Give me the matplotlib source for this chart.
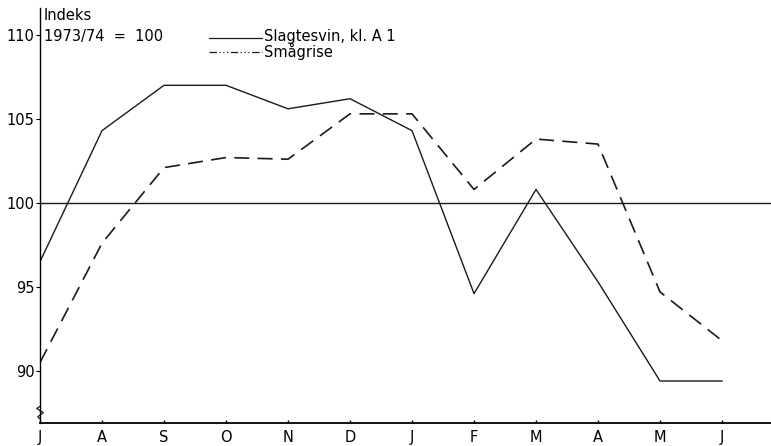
import matplotlib
matplotlib.use('Agg')
import matplotlib.pyplot as plt
import numpy as np

plt.rcParams['font.family'] = ['DejaVu Sans']

# Data (index 1973/74 = 100)
months = ['J', 'A', 'S', 'O', 'N', 'D', 'J', 'F', 'M', 'A', 'M', 'J']
slagtesvin = [96.5, 104.3, 107.0, 107.0, 105.6, 106.2, 104.3, 94.6, 100.8, 95.3, 89.4, 89.4]
smaagrise = [90.5, 97.6, 102.1, 102.7, 102.6, 105.3, 105.3, 100.8, 103.8, 103.5, 94.7, 91.8]
yticks = [90, 95, 100, 105, 110]

fig = plt.figure(figsize=(7.71, 4.46), dpi=100)
ax = fig.add_axes([40 / 771, 23 / 446, 731 / 771, 415 / 446])

x = np.arange(len(months))
ax.plot(x, slagtesvin, color='#1a1a1a', linewidth=1.0)
ax.plot(x, smaagrise, color='#1a1a1a', linewidth=1.2, dashes=(9, 5))
ax.axhline(100, color='#1a1a1a', linewidth=1.0)

ax.set_xlim(0, 11.79)
ax.set_ylim(86.9, 111.6)

for s in ['top', 'right']:
    ax.spines[s].set_visible(False)
ax.spines['left'].set_linewidth(1.0)
ax.spines['bottom'].set_linewidth(1.3)

ax.set_yticks(yticks)
ax.set_yticklabels([str(t) for t in yticks], fontsize=10.5)
ax.tick_params(axis='y', direction='out', length=3, width=0.8, pad=1)
ax.set_xticks(x)
ax.set_xticklabels(months, fontsize=10.5)
ax.tick_params(axis='x', direction='in', length=2, width=1.0, pad=5)

# axis break marker near the bottom of the y axis
bx = [0, -0.0045, 0.0045, -0.003, 0]
by = [0.04, 0.035, 0.025, 0.015, 0.01]
ax.plot(bx, by, transform=ax.transAxes, color='white', linewidth=3, clip_on=False)
ax.plot(bx, by, transform=ax.transAxes, color='#1a1a1a', linewidth=0.9, clip_on=False)

# titles and hand-drawn legend
fig.text(44 / 771, 1 - 15 / 446, 'Indeks', fontsize=10.5, va='center')
fig.text(44 / 771, 1 - 36 / 446, '1973/74  =  100', fontsize=10.5, va='center')
fig.lines.append(plt.Line2D([209 / 771, 262 / 771], [1 - 38 / 446, 1 - 38 / 446],
                            transform=fig.transFigure, color='#1a1a1a', linewidth=0.9))
fig.lines.append(plt.Line2D([209 / 771, 262 / 771], [1 - 52 / 446, 1 - 52 / 446],
                            transform=fig.transFigure, color='#1a1a1a', linewidth=0.9,
                            dashes=(6, 2, 1, 2, 1, 2, 1, 2)))
fig.text(264 / 771, 1 - 36 / 446, 'Slagtesvin, kl. A 1', fontsize=10.5, va='center')
fig.text(264 / 771, 1 - 51 / 446, 'Smågrise', fontsize=10.5, va='center')

plt.savefig('out.png', dpi=100)
